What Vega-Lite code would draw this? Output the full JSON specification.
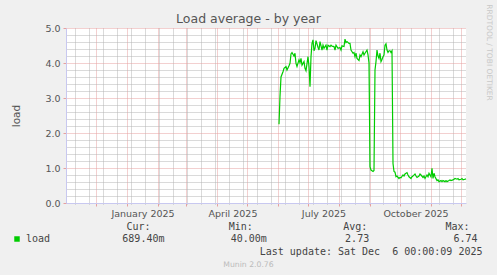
{
  "$schema": "https://vega.github.io/schema/vega-lite/v6.json",
  "width": 400,
  "height": 175,
  "autosize": {"type": "none"},
  "padding": {"left": 66, "top": 28, "right": 31, "bottom": 72},
  "background": "#F0F0F0",
  "title": {"text": "Load average - by year", "anchor": "middle", "dx": -17.5, "dy": 36, "font": "DejaVu Sans", "fontSize": 12.5, "fontWeight": "normal", "color": "#555555", "offset": 4, "baseline": "alphabetic"},
  "config": {
    "view": {"fill": "#FFFFFF", "stroke": null},
    "axis": {"labelFont": "DejaVu Sans", "labelFontSize": 9.5, "labelColor": "#555555", "titleFont": "DejaVu Sans", "titleFontWeight": "normal", "titleColor": "#555555"}
  },
  "data": {"values": [
    {"date": "2025-06-02", "load": 2.25}, {"date": "2025-06-03", "load": 3.05}, {"date": "2025-06-04", "load": 3.6}, {"date": "2025-06-06", "load": 3.75},
    {"date": "2025-06-07", "load": 3.85}, {"date": "2025-06-09", "load": 3.9}, {"date": "2025-06-10", "load": 3.8}, {"date": "2025-06-12", "load": 3.92},
    {"date": "2025-06-13", "load": 3.99}, {"date": "2025-06-14", "load": 4.26}, {"date": "2025-06-15", "load": 4.3}, {"date": "2025-06-17", "load": 4.2},
    {"date": "2025-06-18", "load": 4.28}, {"date": "2025-06-19", "load": 3.99}, {"date": "2025-06-20", "load": 3.9}, {"date": "2025-06-22", "load": 4.09},
    {"date": "2025-06-23", "load": 4.01}, {"date": "2025-06-24", "load": 4.13}, {"date": "2025-06-25", "load": 3.94}, {"date": "2025-06-27", "load": 4.04},
    {"date": "2025-06-28", "load": 3.85}, {"date": "2025-06-29", "load": 3.78}, {"date": "2025-07-01", "load": 4.18}, {"date": "2025-07-02", "load": 3.9},
    {"date": "2025-07-03", "load": 3.32}, {"date": "2025-07-04", "load": 4.18}, {"date": "2025-07-05", "load": 4.56}, {"date": "2025-07-06", "load": 4.66},
    {"date": "2025-07-07", "load": 4.35}, {"date": "2025-07-08", "load": 4.42}, {"date": "2025-07-09", "load": 4.64}, {"date": "2025-07-11", "load": 4.45},
    {"date": "2025-07-12", "load": 4.37}, {"date": "2025-07-13", "load": 4.61}, {"date": "2025-07-15", "load": 4.37}, {"date": "2025-07-16", "load": 4.51},
    {"date": "2025-07-17", "load": 4.42}, {"date": "2025-07-19", "load": 4.51}, {"date": "2025-07-20", "load": 4.37}, {"date": "2025-07-21", "load": 4.51},
    {"date": "2025-07-23", "load": 4.47}, {"date": "2025-07-24", "load": 4.51}, {"date": "2025-07-25", "load": 4.48}, {"date": "2025-07-27", "load": 4.47},
    {"date": "2025-07-28", "load": 4.37}, {"date": "2025-07-29", "load": 4.51}, {"date": "2025-07-31", "load": 4.42}, {"date": "2025-08-02", "load": 4.44},
    {"date": "2025-08-03", "load": 4.37}, {"date": "2025-08-04", "load": 4.49}, {"date": "2025-08-06", "load": 4.47}, {"date": "2025-08-07", "load": 4.68},
    {"date": "2025-08-08", "load": 4.58}, {"date": "2025-08-09", "load": 4.61}, {"date": "2025-08-11", "load": 4.56}, {"date": "2025-08-12", "load": 4.56},
    {"date": "2025-08-13", "load": 4.37}, {"date": "2025-08-15", "load": 4.28}, {"date": "2025-08-16", "load": 4.3}, {"date": "2025-08-17", "load": 4.18},
    {"date": "2025-08-18", "load": 4.28}, {"date": "2025-08-19", "load": 4.13}, {"date": "2025-08-21", "load": 4.07}, {"date": "2025-08-22", "load": 4.23},
    {"date": "2025-08-23", "load": 4.18}, {"date": "2025-08-25", "load": 4.32}, {"date": "2025-08-26", "load": 4.23}, {"date": "2025-08-27", "load": 4.28},
    {"date": "2025-08-29", "load": 4.37}, {"date": "2025-08-30", "load": 4.23}, {"date": "2025-08-31", "load": 4.0}, {"date": "2025-09-01", "load": 1.04},
    {"date": "2025-09-02", "load": 0.94}, {"date": "2025-09-03", "load": 0.92}, {"date": "2025-09-04", "load": 0.9}, {"date": "2025-09-05", "load": 0.93},
    {"date": "2025-09-06", "load": 3.8}, {"date": "2025-09-07", "load": 4.04}, {"date": "2025-09-08", "load": 4.37}, {"date": "2025-09-09", "load": 4.2},
    {"date": "2025-09-10", "load": 4.13}, {"date": "2025-09-11", "load": 4.28}, {"date": "2025-09-12", "load": 4.04}, {"date": "2025-09-13", "load": 4.1},
    {"date": "2025-09-14", "load": 4.18}, {"date": "2025-09-15", "load": 4.23}, {"date": "2025-09-16", "load": 4.51}, {"date": "2025-09-17", "load": 4.55},
    {"date": "2025-09-18", "load": 4.37}, {"date": "2025-09-19", "load": 4.3}, {"date": "2025-09-20", "load": 4.35}, {"date": "2025-09-21", "load": 4.35},
    {"date": "2025-09-22", "load": 4.3}, {"date": "2025-09-23", "load": 4.35}, {"date": "2025-09-24", "load": 1.13}, {"date": "2025-09-25", "load": 0.9},
    {"date": "2025-09-26", "load": 0.88}, {"date": "2025-09-27", "load": 0.75}, {"date": "2025-09-28", "load": 0.77}, {"date": "2025-09-30", "load": 0.7},
    {"date": "2025-10-01", "load": 0.73}, {"date": "2025-10-02", "load": 0.72}, {"date": "2025-10-04", "load": 0.8}, {"date": "2025-10-05", "load": 0.77},
    {"date": "2025-10-06", "load": 0.83}, {"date": "2025-10-08", "load": 0.87}, {"date": "2025-10-09", "load": 0.8}, {"date": "2025-10-10", "load": 0.75},
    {"date": "2025-10-12", "load": 0.7}, {"date": "2025-10-13", "load": 0.75}, {"date": "2025-10-14", "load": 0.77}, {"date": "2025-10-16", "load": 0.83},
    {"date": "2025-10-17", "load": 0.77}, {"date": "2025-10-18", "load": 0.73}, {"date": "2025-10-20", "load": 0.77}, {"date": "2025-10-21", "load": 0.83},
    {"date": "2025-10-22", "load": 0.8}, {"date": "2025-10-24", "load": 0.73}, {"date": "2025-10-25", "load": 0.77}, {"date": "2025-10-26", "load": 0.7},
    {"date": "2025-10-28", "load": 0.8}, {"date": "2025-10-29", "load": 0.75}, {"date": "2025-10-30", "load": 0.85}, {"date": "2025-11-01", "load": 0.75},
    {"date": "2025-11-02", "load": 0.99}, {"date": "2025-11-03", "load": 0.7}, {"date": "2025-11-04", "load": 0.85}, {"date": "2025-11-05", "load": 0.75},
    {"date": "2025-11-07", "load": 0.64}, {"date": "2025-11-08", "load": 0.66}, {"date": "2025-11-09", "load": 0.61}, {"date": "2025-11-11", "load": 0.64},
    {"date": "2025-11-12", "load": 0.61}, {"date": "2025-11-13", "load": 0.64}, {"date": "2025-11-15", "load": 0.61}, {"date": "2025-11-16", "load": 0.64},
    {"date": "2025-11-17", "load": 0.61}, {"date": "2025-11-19", "load": 0.64}, {"date": "2025-11-20", "load": 0.66}, {"date": "2025-11-21", "load": 0.64},
    {"date": "2025-11-23", "load": 0.66}, {"date": "2025-11-24", "load": 0.68}, {"date": "2025-11-25", "load": 0.7}, {"date": "2025-11-27", "load": 0.68},
    {"date": "2025-11-28", "load": 0.7}, {"date": "2025-11-29", "load": 0.66}, {"date": "2025-12-01", "load": 0.68}, {"date": "2025-12-02", "load": 0.7},
    {"date": "2025-12-03", "load": 0.66}, {"date": "2025-12-05", "load": 0.68}, {"date": "2025-12-06", "load": 0.69}
  ]},
  "layer": [
    {
      "mark": {"type": "point", "opacity": 0},
      "encoding": {
        "x": {
          "field": "date", "type": "temporal",
          "scale": {"type": "utc", "domain": [{"year": 2024, "month": 11, "date": 1, "utc": true}, {"year": 2025, "month": 12, "date": 6, "utc": true}], "nice": false},
          "axis": {
            "orient": "bottom", "labels": false, "domain": false, "title": null,
            "values": [
              {"year": 2024, "month": 11, "date": 10, "utc": true}, {"year": 2024, "month": 11, "date": 24, "utc": true}, {"year": 2024, "month": 12, "date": 8, "utc": true},
              {"year": 2024, "month": 12, "date": 22, "utc": true}, {"year": 2025, "month": 1, "date": 5, "utc": true}, {"year": 2025, "month": 1, "date": 19, "utc": true},
              {"year": 2025, "month": 2, "date": 2, "utc": true}, {"year": 2025, "month": 2, "date": 16, "utc": true}, {"year": 2025, "month": 3, "date": 2, "utc": true},
              {"year": 2025, "month": 3, "date": 16, "utc": true}, {"year": 2025, "month": 3, "date": 30, "utc": true}, {"year": 2025, "month": 4, "date": 13, "utc": true},
              {"year": 2025, "month": 4, "date": 27, "utc": true}, {"year": 2025, "month": 5, "date": 11, "utc": true}, {"year": 2025, "month": 5, "date": 25, "utc": true},
              {"year": 2025, "month": 6, "date": 8, "utc": true}, {"year": 2025, "month": 6, "date": 22, "utc": true}, {"year": 2025, "month": 7, "date": 6, "utc": true},
              {"year": 2025, "month": 7, "date": 20, "utc": true}, {"year": 2025, "month": 8, "date": 3, "utc": true}, {"year": 2025, "month": 8, "date": 17, "utc": true},
              {"year": 2025, "month": 8, "date": 31, "utc": true}, {"year": 2025, "month": 9, "date": 14, "utc": true}, {"year": 2025, "month": 9, "date": 28, "utc": true},
              {"year": 2025, "month": 10, "date": 12, "utc": true}, {"year": 2025, "month": 10, "date": 26, "utc": true}, {"year": 2025, "month": 11, "date": 9, "utc": true},
              {"year": 2025, "month": 11, "date": 23, "utc": true}
            ],
            "grid": true, "gridColor": "#B4B4B4", "gridDash": [1, 1], "gridOpacity": 1,
            "ticks": true, "tickColor": "#BBBBBB", "tickSize": 1
          }
        },
        "y": {
          "field": "load", "type": "quantitative",
          "scale": {"domain": [0, 5], "nice": false, "zero": true},
          "axis": {
            "orient": "left", "labels": false, "domain": false, "ticks": false, "title": null,
            "values": [0.2, 0.4, 0.6, 0.8, 1.2, 1.4, 1.6, 1.8, 2.2, 2.4, 2.6, 2.8, 3.2, 3.4, 3.6, 3.8, 4.2, 4.4, 4.6, 4.8],
            "grid": true, "gridColor": "#B4B4B4", "gridDash": [1, 1], "gridOpacity": 1
          }
        }
      }
    },
    {
      "mark": {"type": "point", "opacity": 0},
      "encoding": {
        "x": {
          "field": "date", "type": "temporal",
          "axis": {
            "orient": "bottom", "labels": false, "domain": false,
            "values": [
              {"year": 2024, "month": 12, "date": 1, "utc": true}, {"year": 2025, "month": 1, "date": 1, "utc": true}, {"year": 2025, "month": 2, "date": 1, "utc": true},
              {"year": 2025, "month": 3, "date": 1, "utc": true}, {"year": 2025, "month": 4, "date": 1, "utc": true}, {"year": 2025, "month": 5, "date": 1, "utc": true},
              {"year": 2025, "month": 6, "date": 1, "utc": true}, {"year": 2025, "month": 7, "date": 1, "utc": true}, {"year": 2025, "month": 8, "date": 1, "utc": true},
              {"year": 2025, "month": 9, "date": 1, "utc": true}, {"year": 2025, "month": 10, "date": 1, "utc": true}, {"year": 2025, "month": 11, "date": 1, "utc": true},
              {"year": 2025, "month": 12, "date": 1, "utc": true}
            ],
            "grid": true, "gridColor": "#E6A0A0", "gridDash": [1, 1], "gridOpacity": 1,
            "ticks": true, "tickColor": "#E6A0A0", "tickSize": 3,
            "title": "Munin 2.0.76", "titleFont": "DejaVu Sans", "titleFontSize": 7.7, "titleColor": "#BBBBBB",
            "titleX": 182, "titleY": 61, "titleAlign": "center", "titleBaseline": "middle"
          }
        },
        "y": {
          "field": "load", "type": "quantitative",
          "axis": {"orient": "right", "labels": false, "ticks": false, "domain": false, "grid": false,
            "title": "RRDTOOL / TOBI OETIKER", "titleFont": "DejaVu Sans", "titleFontSize": 7.5, "titleColor": "#C8C8C8",
            "titleAngle": 90, "titleX": 22, "titleY": 24, "titleAlign": "center", "titleBaseline": "middle"}
        }
      }
    },
    {
      "mark": {"type": "line", "strokeWidth": 1.2, "interpolate": "linear"},
      "encoding": {
        "x": {
          "field": "date", "type": "temporal",
          "axis": {
            "orient": "bottom", "grid": false, "ticks": false,
            "values": [
              {"year": 2025, "month": 1, "date": 16, "hours": 12, "utc": true}, {"year": 2025, "month": 4, "date": 16, "hours": 12, "utc": true},
              {"year": 2025, "month": 7, "date": 16, "hours": 12, "utc": true}, {"year": 2025, "month": 10, "date": 16, "hours": 12, "utc": true}
            ],
            "labelExpr": "utcFormat(datum.value, '%B %Y')",
            "labelOverlap": false, "labelFlush": false, "labelPadding": 5,
            "domainColor": "#C8C8F0",
            "title": "Last update: Sat Dec\u00a0\u00a06 00:00:09 2025",
            "titleFont": "DejaVu Sans Mono", "titleFontSize": 10, "titleColor": "#444444",
            "titleX": 416, "titleY": 48, "titleAlign": "right", "titleBaseline": "middle"
          }
        },
        "y": {
          "field": "load", "type": "quantitative",
          "axis": {
            "orient": "left",
            "values": [0, 1, 2, 3, 4, 5],
            "labelExpr": "format(datum.value, '.1f')",
            "labelOverlap": false, "labelPadding": 3, "tickSize": 3, "tickColor": "#E6A0A0",
            "grid": true, "gridDash": [1, 1], "gridColor": "#E6A0A0", "gridOpacity": 1,
            "domainColor": "#C8C8F0",
            "title": "load", "titleFontSize": 10.5, "titleX": -49.5, "titleY": 87.5, "titleAlign": "center", "titleBaseline": "middle"
          }
        },
        "color": {
          "datum": "load",
          "scale": {"range": ["#00CC00"]},
          "legend": {
            "orient": "none", "legendX": -54, "legendY": 194, "padding": 0,
            "title": "\u200b\u00a0\u00a0\u00a0\u00a0\u00a0\u00a0\u00a0\u00a0\u00a0\u00a0\u00a0\u00a0\u00a0\u00a0\u00a0\u00a0\u00a0\u00a0\u00a0Cur:\u00a0\u00a0\u00a0\u00a0\u00a0\u00a0\u00a0\u00a0\u00a0\u00a0\u00a0\u00a0\u00a0Min:\u00a0\u00a0\u00a0\u00a0\u00a0\u00a0\u00a0\u00a0\u00a0\u00a0\u00a0\u00a0\u00a0\u00a0\u00a0Avg:\u00a0\u00a0\u00a0\u00a0\u00a0\u00a0\u00a0\u00a0\u00a0\u00a0\u00a0\u00a0\u00a0Max:",
            "titleFont": "DejaVu Sans Mono", "titleFontSize": 10, "titleFontWeight": "normal", "titleColor": "#444444", "titlePadding": 2, "titleLimit": 600,
            "labelExpr": "datum.label + '\u00a0\u00a0\u00a0\u00a0\u00a0\u00a0\u00a0\u00a0\u00a0\u00a0\u00a0\u00a0689.40m\u00a0\u00a0\u00a0\u00a0\u00a0\u00a0\u00a0\u00a0\u00a0\u00a0\u00a040.00m\u00a0\u00a0\u00a0\u00a0\u00a0\u00a0\u00a0\u00a0\u00a0\u00a0\u00a0\u00a0\u00a02.73\u00a0\u00a0\u00a0\u00a0\u00a0\u00a0\u00a0\u00a0\u00a0\u00a0\u00a0\u00a0\u00a0\u00a06.74'",
            "labelFont": "DejaVu Sans Mono", "labelFontSize": 10, "labelColor": "#444444", "labelOffset": 4, "labelLimit": 600,
            "symbolType": "square", "symbolSize": 30, "symbolFillColor": "#00CC00", "symbolStrokeWidth": 0, "symbolOpacity": 1
          }
        }
      }
    }
  ],
  "resolve": {"axis": {"x": "independent", "y": "independent"}}
}
